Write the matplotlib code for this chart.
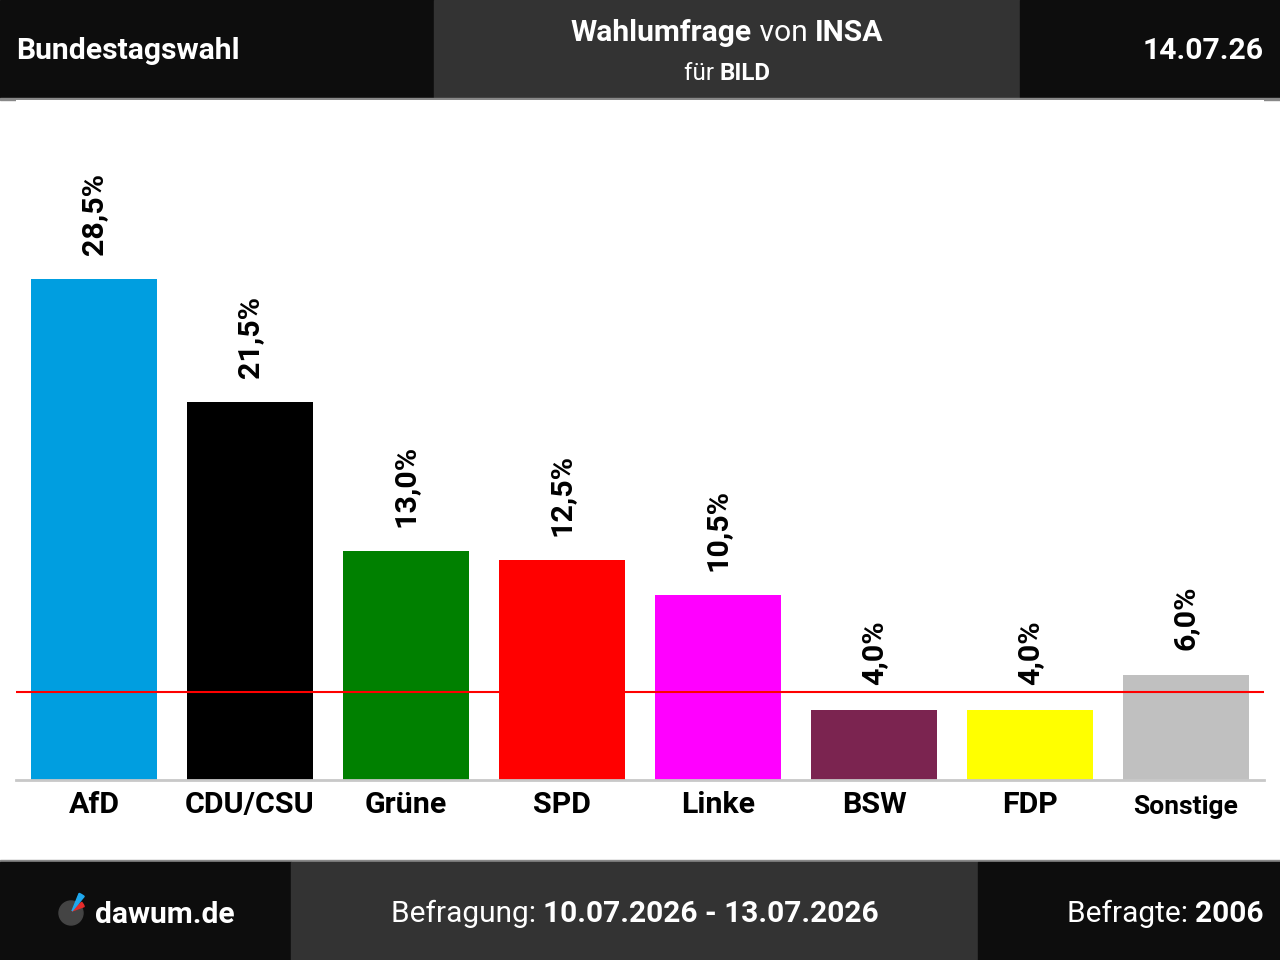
import numpy as np
import matplotlib.pyplot as plt
from matplotlib.patches import Rectangle, Wedge, Circle
from matplotlib.transforms import ScaledTranslation

plt.rcParams['font.family'] = ['Roboto', 'DejaVu Sans']

# Umfragewerte
parteien = ['AfD', 'CDU/CSU', 'Grüne', 'SPD', 'Linke', 'BSW', 'FDP', 'Sonstige']
werte = [28.5, 21.5, 13.0, 12.5, 10.5, 4.0, 4.0, 6.0]
farben = ['#009ee0', '#000000', '#008000', '#ff0000', '#ff00ff', '#7b2450', '#ffff00', '#c0c0c0']
huerde = 5.0

titel_links = 'Bundestagswahl'
institut = 'INSA'
auftraggeber = 'BILD'
datum = '14.07.26'
zeitraum = '10.07.2026 - 13.07.2026'
befragte = '2006'

W, H = 1280, 960
fig = plt.figure(figsize=(12.8, 9.6), dpi=100)
fig.patch.set_facecolor('white')

def px_rect(x0, y0, x1, y1, color):
    # Rechteck in Pixeln (y von oben gemessen)
    fig.patches.append(Rectangle((x0 / W, 1 - y1 / H), (x1 - x0) / W, (y1 - y0) / H,
                                 transform=fig.transFigure, color=color, zorder=-1))

# Kopfzeile
px_rect(0, 0, 434, 98, '#0d0d0d')
px_rect(434, 0, 1020, 98, '#333333')
px_rect(1020, 0, 1280, 98, '#0d0d0d')
px_rect(0, 98, 1280, 100, '#888888')
# Fußzeile
px_rect(0, 860, 1280, 862, '#888888')
px_rect(0, 862, 291, 960, '#0d0d0d')
px_rect(291, 862, 978, 960, '#333333')
px_rect(978, 862, 1280, 960, '#0d0d0d')

renderer = fig.canvas.get_renderer()

def mixed_text(parts, x, y, align, size):
    # parts: Liste aus (text, weight); x,y in Pixeln
    widths = []
    for t, wgt in parts:
        tt = fig.text(0, 0, t, fontsize=size, fontweight=wgt)
        widths.append(tt.get_window_extent(renderer).width)
        tt.remove()
    total = sum(widths)
    if align == 'center':
        start = x - total / 2
    elif align == 'right':
        start = x - total
    else:
        start = x
    for (t, wgt), w in zip(parts, widths):
        fig.text(start / W, 1 - y / H, t, fontsize=size, fontweight=wgt, color='white',
                 ha='left', va='center')
        start += w

mixed_text([(titel_links, 'bold')], 16, 51, 'left', 21.7)
mixed_text([('Wahlumfrage', 'bold'), (' von ', 'normal'), (institut, 'bold')], 727, 33, 'center', 21.6)
mixed_text([('für ', 'normal'), (auftraggeber, 'bold')], 727, 73, 'center', 17.4)
mixed_text([(datum, 'bold')], 1264, 51, 'right', 21.7)

mixed_text([('dawum.de', 'bold')], 95, 915, 'left', 21.6)
mixed_text([('Befragung: ', 'normal'), (zeitraum, 'bold')], 635, 914, 'center', 21.5)
mixed_text([('Befragte: ', 'normal'), (befragte, 'bold')], 1264, 914, 'right', 21.5)

# Logo
lax = fig.add_axes([50 / W, 1 - 935 / H, 45 / W, 45 / H])
lax.set_xlim(0, 45)
lax.set_ylim(0, 45)
lax.set_aspect('equal')
lax.axis('off')
lax.add_patch(Circle((21, 22), 12, color='#444444'))
lax.add_patch(Wedge((22, 24), 13, 20, 42, color='#e52b2b'))
lax.add_patch(Wedge((22, 24), 19, 50, 68, color='#1fa8ee'))

# Balkendiagramm
ax = fig.add_axes([16 / W, 1 - 780 / H, 1248 / W, 680 / H])
x = np.arange(len(parteien))
ax.bar(x, werte, width=126 / 156, color=farben, zorder=2)
ax.set_xlim(-0.5, len(parteien) - 0.5)
ax.set_ylim(0, 680 / (501 / 28.5))
ax.axhline(huerde, color='#ff0000', lw=1.5, zorder=3)
for s in ['top', 'right', 'left']:
    ax.spines[s].set_visible(False)
ax.spines['bottom'].set_color('#c8c8c8')
ax.spines['bottom'].set_linewidth(2)
ax.set_yticks([])
ax.set_xticks(x)
ax.set_xticklabels(parteien, fontsize=21.9, fontweight='bold')
ax.tick_params(axis='x', length=0, pad=8)
sonst = ax.get_xticklabels()[-1]
sonst.set_fontsize(19)
sonst.set_transform(sonst.get_transform() + ScaledTranslation(0, -4 / 100, fig.dpi_scale_trans))

for xi, v in zip(x, werte):
    ax.annotate(f'{v:.1f}%'.replace('.', ','), (xi, v), xytext=(0, 17.5),
                textcoords='offset points', rotation=90, ha='center', va='bottom',
                fontsize=21.9, fontweight='bold')

fig.savefig('out.png', dpi=100)
